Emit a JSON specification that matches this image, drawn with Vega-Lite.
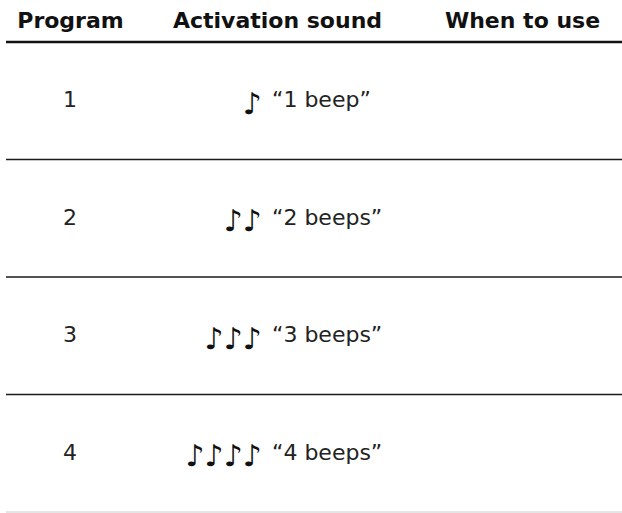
{
  "$schema": "https://vega.github.io/schema/vega-lite/v6.json",
  "width": 616,
  "height": 470,
  "autosize": {"type": "none"},
  "padding": {"left": 6, "top": 42, "right": 0, "bottom": 1},
  "background": "white",
  "config": {"view": {"stroke": null}},
  "data": {
    "values": [
      {"program": 1, "notes": "♪", "label": "“1 beep”", "use": ""},
      {"program": 2, "notes": "♪♪", "label": "“2 beeps”", "use": ""},
      {"program": 3, "notes": "♪♪♪", "label": "“3 beeps”", "use": ""},
      {"program": 4, "notes": "♪♪♪♪", "label": "“4 beeps”", "use": ""}
    ]
  },
  "encoding": {
    "y": {
      "field": "program",
      "type": "ordinal",
      "scale": {"type": "band", "domain": [1, 2, 3, 4], "paddingInner": 0, "paddingOuter": 0},
      "axis": null
    }
  },
  "layer": [
    {
      "mark": {"type": "rule", "strokeWidth": 1.6},
      "encoding": {
        "y": {"field": "program", "type": "ordinal", "bandPosition": 1},
        "color": {
          "condition": {"test": "datum.program == 4", "value": "#dddddd"},
          "value": "#1a1a1a"
        }
      }
    },
    {
      "transform": [{"filter": "datum.program == 1"}],
      "mark": {"type": "rule", "strokeWidth": 2.5, "color": "#111111"},
      "encoding": {
        "y": {"field": "program", "type": "ordinal", "bandPosition": 0}
      }
    },
    {
      "mark": {"type": "text", "font": "DejaVu Sans", "fontSize": 22, "color": "#222222", "align": "center", "baseline": "alphabetic", "dy": 6.5},
      "encoding": {
        "x": {
          "datum": "Program",
          "type": "nominal",
          "scale": {"type": "point", "domain": ["Program", "Activation sound", "When to use"], "range": [64, 516], "padding": 0},
          "axis": {
            "orient": "top",
            "title": null,
            "domain": false,
            "ticks": false,
            "tickSize": 0,
            "grid": false,
            "labelFont": "DejaVu Sans",
            "labelFontWeight": "bold",
            "labelFontSize": 22,
            "labelColor": "#111111",
            "labelBaseline": "alphabetic",
            "labelPadding": 15,
            "labelAngle": 0,
            "labelLimit": 400,
            "labelOverlap": false,
            "labelOffset": {"condition": {"test": "datum.value == 'Activation sound'", "value": -19}, "value": 0}
          }
        },
        "y": {"field": "program", "type": "ordinal", "bandPosition": 0.5},
        "text": {"field": "program", "type": "nominal"}
      }
    },
    {
      "mark": {"type": "text", "font": "DejaVu Sans", "fontSize": 30, "color": "#111111", "align": "right", "baseline": "alphabetic", "dx": -34, "dy": 13},
      "encoding": {
        "x": {"datum": "Activation sound", "type": "nominal"},
        "y": {"field": "program", "type": "ordinal", "bandPosition": 0.5},
        "text": {"field": "notes", "type": "nominal"}
      }
    },
    {
      "mark": {"type": "text", "font": "DejaVu Sans", "fontSize": 22, "color": "#222222", "align": "left", "baseline": "alphabetic", "dx": -24, "dy": 6.5},
      "encoding": {
        "x": {"datum": "Activation sound", "type": "nominal"},
        "y": {"field": "program", "type": "ordinal", "bandPosition": 0.5},
        "text": {"field": "label", "type": "nominal"}
      }
    }
  ]
}
